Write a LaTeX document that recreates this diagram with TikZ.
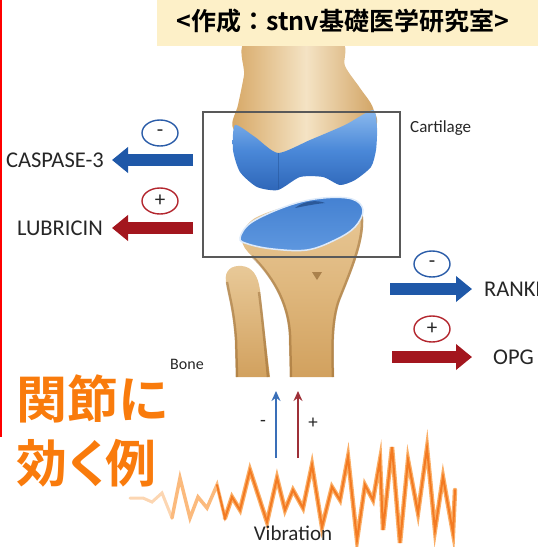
\documentclass[tikz,border=0pt]{standalone}
\usepackage{fontspec}
\setmainfont{Carlito}
\newfontfamily\cjk{Noto Sans CJK JP}[BoldFont={Noto Sans CJK JP Bold}]
\usetikzlibrary{arrows.meta,shapes.geometric}

\definecolor{hdr}{HTML}{FDF0C8}
\definecolor{armblue}{HTML}{1F58A8}
\definecolor{armred}{HTML}{A3161E}
\definecolor{circblue}{HTML}{2A5CA8}
\definecolor{circred}{HTML}{B3262E}
\definecolor{jporange}{HTML}{F97B0C}
\definecolor{vibdark}{HTML}{F37A22}
\definecolor{viblight}{HTML}{FAAE66}
\definecolor{bonecream}{HTML}{F4E3C4}
\definecolor{bonelight}{HTML}{EDD2A6}
\definecolor{bonemid}{HTML}{D6A663}
\definecolor{bonedark}{HTML}{A87232}
\definecolor{cartmid}{HTML}{4A88D8}
\definecolor{cartlight}{HTML}{8CBAEE}
\definecolor{cartdark}{HTML}{2E66B8}
\definecolor{upblue}{HTML}{3A6FB8}
\definecolor{upred}{HTML}{9E3038}

\tikzset{
  lbl/.style={inner sep=0pt, font=\fontsize{22.5}{26}\selectfont, text=black!85},
  small/.style={inner sep=0pt, font=\fontsize{17}{20}\selectfont, text=black!85},
  blockarrow/.style={line width=12pt, -{Triangle[width=25pt,length=16pt]}},
  signcirc/.style={ellipse, draw, line width=1.4pt, minimum width=36pt, minimum height=26pt,
    inner sep=0pt, font=\fontsize{21}{21}\selectfont, text=black!85},
  uparrow/.style={line width=2pt, -{Stealth[length=10pt,width=9pt]}},
  jptext/.style={inner sep=0pt, anchor=west, text=jporange,
    font=\cjk\bfseries\fontsize{51}{51}\selectfont},
  boneedge/.style={bonedark!85!black, line width=2.5pt, opacity=0.45},
}

\begin{document}
\begin{tikzpicture}[x=1pt, y=-1pt]
\useasboundingbox (0,0) rectangle (538,547);

% ---- bones ----
% femur
\path[left color=bonemid, right color=bonemid!85!bonedark, middle color=bonecream]
  plot[smooth cycle, tension=0.5] coordinates {(248,40) (244,75) (238,105) (233,128) (260,150)
    (300,160) (372,130) (373,108) (360,88) (345,66) (338,40)};
% fibula
\path[top color=bonelight!80!bonemid, bottom color=bonemid!90!bonedark]
  (236,377) -- (235,340) .. controls (233,310) and (228,295) .. (226,282)
  .. controls (224,270) and (232,265) .. (242,266)
  .. controls (252,267) and (258,275) .. (260,290)
  .. controls (263,315) and (266,345) .. (270,377) -- cycle;
\draw[boneedge] (237,377) -- (236,340) .. controls (234,310) and (229,295) .. (227,282);
\draw[boneedge] (268,377) .. controls (265,345) and (262,315) .. (259,292);
% tibia
\path[top color=bonelight!80!bonemid, bottom color=bonemid!90!bonedark, middle color=bonelight!40!bonemid]
  (290,377) -- (289,335) .. controls (287,300) and (270,275) .. (248,252)
  .. controls (238,242) and (240,228) .. (255,218)
  .. controls (290,200) and (350,195) .. (362,210)
  .. controls (368,235) and (352,270) .. (340,300)
  .. controls (333,320) and (333,345) .. (334,377) -- cycle;
\draw[boneedge] (291,377) -- (290,335) .. controls (288,300) and (271,275) .. (252,256);
\draw[boneedge] (333,377) .. controls (332,345) and (332,320) .. (339,300)
  .. controls (351,270) and (366,235) .. (361,212);
\fill[bonedark!80!black, opacity=0.6] (312,272) -- (322,272) -- (317,280) -- cycle;
% upper cartilage
\path[top color=cartlight, bottom color=cartdark, middle color=cartmid]
  plot[smooth cycle, tension=0.4] coordinates {(235,125) (255,137) (278,153) (310,140) (345,125)
    (373,110) (377,128) (376,150) (371,167) (355,180) (340,185) (323,177) (300,177)
    (278,190) (257,187) (240,172) (233,150)};
\draw[cartdark!80!black, line width=0.6pt, opacity=0.5] (278,153) -- (278,189);
% lower cartilage
\path[top color=cartmid!80!cartdark, bottom color=cartmid!70!cartlight, draw=white!70!cartlight, line width=1.5pt]
  plot[smooth cycle, tension=0.6] coordinates {(240,238) (252,222) (290,205) (323,198) (352,199)
    (363,210) (355,227) (335,240) (307,250) (273,249) (248,244)};
\fill[cartdark!70!black, opacity=0.7] (295,208) .. controls (305,200) and (318,200) .. (325,203)
  .. controls (315,204) and (305,206) .. (295,208);

% ---- cartilage frame ----
\node[draw=black!65, line width=1.1pt, minimum width=197pt, minimum height=145pt, inner sep=0pt]
  (frame) at (301.5,184.5) {};
\node[small, anchor=west] (cart) at (410,128) {Cartilage};
\node[small, font=\fontsize{16}{19}\selectfont] (bone) at (187,364) {Bone};

% ---- left outputs ----
\node[lbl, anchor=east] (casp) at (104,160) {CASPASE-3};
\node[lbl, anchor=east] (lubr) at (103,228) {LUBRICIN};
\coordinate (caspfrom) at (193,160);
\coordinate (lubrfrom) at (193,228);
\draw[blockarrow, armblue] (caspfrom) -- ([xshift=8pt]casp.east);
\draw[blockarrow, armred] (lubrfrom) -- ([xshift=9pt]lubr.east);
\node[signcirc, draw=circblue] (sg1) at (160,133) {-};
\node[signcirc, draw=circred] (sg2) at (160,201) {+};

% ---- right outputs ----
\node[lbl, anchor=west] (rankl) at (484,289) {RANKL};
\node[lbl, anchor=west] (opg) at (493,357) {OPG};
\coordinate (ranklfrom) at (390,289);
\coordinate (opgfrom) at (392,357);
\draw[blockarrow, armblue] (ranklfrom) -- ([xshift=-12pt]rankl.west);
\draw[blockarrow, armred] (opgfrom) -- ([xshift=-21pt]opg.west);
\node[signcirc, draw=circblue] (sg3) at (432,264) {-};
\node[signcirc, draw=circred] (sg4) at (432,329) {+};

% ---- vibration input ----
\coordinate (vb1) at (276,458);
\coordinate (vt1) at (276,391);
\coordinate (vb2) at (298,458);
\coordinate (vt2) at (298,391);
\draw[uparrow, upblue] (vb1) -- (vt1);
\draw[uparrow, upred] (vb2) -- (vt2);
\node[lbl, font=\fontsize{19}{19}\selectfont] (minus) at (263,423) {-};
\node[lbl, font=\fontsize{19}{19}\selectfont] (plus) at (313,423) {+};

\begin{scope}[line join=miter, line cap=round]
\draw[viblight!50!white, line width=3pt] plot coordinates {(130,498) (143,498) (152,502) (162,493) (172,518)};
\draw[viblight!85!white, line width=3.5pt] plot coordinates {(172,518) (180,478) (190,518) (198,497) (207,508) (217,485) (225,518)};
\draw[viblight, line width=4.5pt] plot coordinates {(225,518) (232,497) (240,510) (250,470) (267,522) (277,478)
  (285,510) (293,490) (303,508) (312,465) (322,527) (332,487) (340,500) (348,457) (357,540)
  (365,485) (373,500) (380,460) (383,530) (392,447) (400,543) (408,460) (418,513) (427,448)
  (435,530) (443,477) (453,533) (455,490)};
\draw[vibdark, line width=2pt] plot coordinates {(217,485) (225,518) (232,497) (240,510) (250,470) (267,522) (277,478)
  (285,510) (293,490) (303,508) (312,465) (322,527) (332,487) (340,500) (348,457) (357,540)
  (365,485) (373,500) (380,460) (383,530) (392,447) (400,543) (408,460) (418,513) (427,448)
  (435,530) (443,477) (453,533) (455,490)};
\end{scope}
\node[lbl, font=\fontsize{21}{24}\selectfont] (vib) at (293,533) {Vibration};

% ---- header and side notes ----
\fill[hdr] (157,0) rectangle (538,46);
\node (hdrtext) at (343,21) {\cjk\bfseries\fontsize{25}{25}\selectfont <作成：stnv基礎医学研究室>};
\fill[red] (0,0) rectangle (2,437);
\node[jptext] (jp1) at (16,399) {関節に};
\node[jptext] (jp2) at (16,463) {効\kern-4pt く\kern-9pt 例};
\end{tikzpicture}
\end{document}
